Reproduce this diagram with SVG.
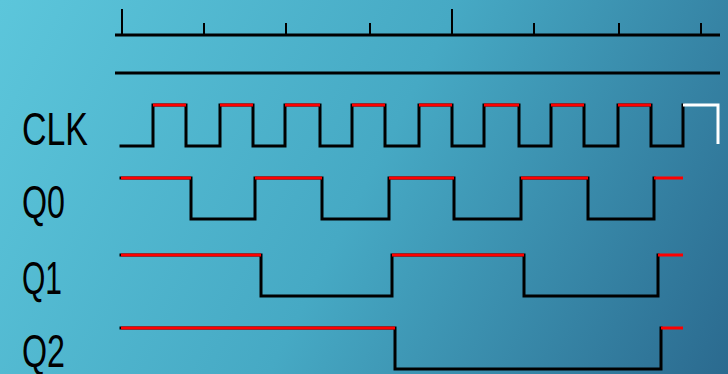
<svg xmlns="http://www.w3.org/2000/svg" width="728" height="374" viewBox="0 0 728 374">
<defs>
<linearGradient id="bg" x1="0" y1="0" x2="728" y2="374" gradientUnits="userSpaceOnUse">
<stop offset="0" stop-color="#5cc6db"/>
<stop offset="0.5" stop-color="#46a9c4"/>
<stop offset="1" stop-color="#2b6a8f"/>
</linearGradient>
<style>
.ax{stroke:#000;stroke-width:3;fill:none}
.tk{stroke:#000;stroke-width:2;fill:none}
.w{stroke:#000;stroke-width:3;fill:none;stroke-linejoin:miter;stroke-linecap:square}
.hi{stroke:#ff0000;stroke-width:3;fill:none}
.wh{stroke:#ffffff;stroke-width:3;fill:none}
.lb{font-family:"Liberation Sans",Arial,sans-serif;font-size:47px;fill:#000}
</style>
</defs>
<rect width="728" height="374" fill="url(#bg)"/>
<g id="axis">
<line class="ax" x1="115" y1="35" x2="720" y2="35"/>
<path class="tk" d="M122,9V35M452,9V35M204,23V35M286,23V35M370,23V35M534,23V35M619,23V35M701,23V35"/>
<line class="ax" x1="115" y1="73" x2="720" y2="73"/>
</g>
<g id="labels">
<text class="lb" x="22" y="145" textLength="66" lengthAdjust="spacingAndGlyphs">CLK</text>
<text class="lb" x="22" y="218" textLength="43" lengthAdjust="spacingAndGlyphs">Q0</text>
<text class="lb" x="22" y="294" textLength="40" lengthAdjust="spacingAndGlyphs">Q1</text>
<text class="lb" x="22" y="367" textLength="43" lengthAdjust="spacingAndGlyphs">Q2</text>
</g>
<g id="connectors">
<g id="clk">
<path class="w" d="M121,146H153V105H186V146H220V105H253V146H285V105H320V146H352V105H385V146H419V105H452V146H484V105H519V146H551V105H584V146H618V105H651V146H683V105"/>
<path class="hi" d="M153,105H186M220,105H253M285,105H320M352,105H385M419,105H452M484,105H519M551,105H584M618,105H651"/>
<path class="wh" d="M683,105H718V144"/>
</g>
<g id="q0">
<path class="w" d="M121,178H191V219H255V178H322V219H389V178H454V219H521V178H588V219H654V178"/>
<path class="hi" d="M121,178H191M255,178H322M389,178H454M521,178H588M654,178H683"/>
</g>
<g id="q1">
<path class="w" d="M121,255H261V296H392V255H524V296H658V255"/>
<path class="hi" d="M121,255H261M392,255H524M658,255H683"/>
</g>
<g id="q2">
<path class="w" d="M121,328H395V369H661V328"/>
<path class="hi" d="M121,328H395M661,328H683"/>
</g>
</g>
</svg>
